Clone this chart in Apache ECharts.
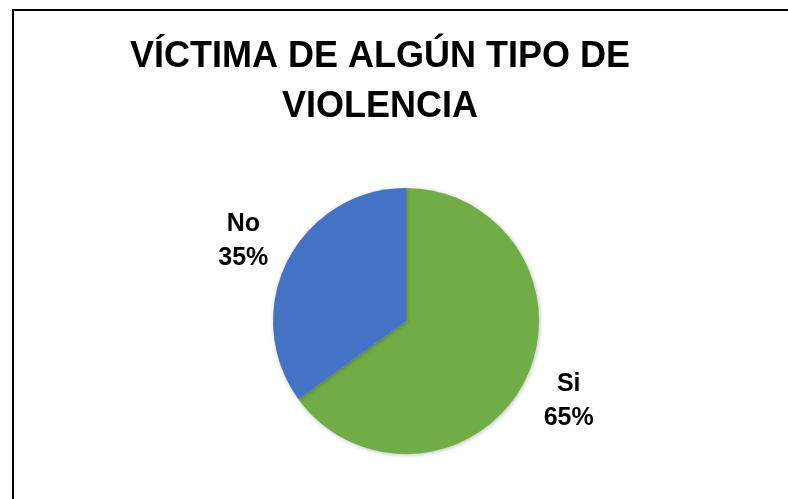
<!DOCTYPE html>
<html>
<head>
<meta charset="utf-8">
<script src="https://cdn.jsdelivr.net/npm/echarts@6/dist/echarts.min.js"></script>
<style>
  html, body { margin: 0; padding: 0; background: #fff; }
  #chart { width: 788px; height: 499px; }
</style>
</head>
<body>
<div id="chart"></div>
<script>
// datos del gráfico
var categorias = ['Si', 'No'];
var valores = [65, 35];
var colores = ['#70AD47', '#4472C4'];
var titulo = 'VÍCTIMA DE ALGÚN TIPO DE\nVIOLENCIA';

var datos = [];
for (var i = 0; i < categorias.length; i++) {
    datos.push({ name: categorias[i], value: valores[i], itemStyle: { color: colores[i] } });
}

var chart = echarts.init(document.getElementById('chart'));
var option = {
    animation: false,
    backgroundColor: '#fff',
    // marco del gráfico (se corta por la derecha y abajo)
    graphic: [{
        type: 'rect',
        shape: { x: 13, y: 10, width: 820, height: 540 },
        style: { fill: 'none', stroke: '#000', lineWidth: 2 },
        z: 10
    }],
    title: {
        text: titulo,
        left: 375,
        top: 27,
        textAlign: 'center',
        textStyle: {
            fontFamily: 'Liberation Sans',
            fontWeight: 'bold',
            fontSize: 36,
            lineHeight: 50,
            color: '#000'
        }
    },
    series: [{
        type: 'pie',
        center: [406, 321],
        radius: 133,
        startAngle: 90,
        clockwise: true,
        data: datos,
        itemStyle: {
            shadowBlur: 4,
            shadowColor: 'rgba(0,0,0,0.25)',
            shadowOffsetX: 1,
            shadowOffsetY: 1
        },
        label: {
            show: true,
            position: 'outside',
            formatter: '{b}\n{d}%',
            fontFamily: 'Liberation Sans',
            fontWeight: 'bold',
            fontSize: 25,
            lineHeight: 34,
            color: '#000'
        },
        labelLine: { show: false, length: 44, length2: 0 },
        labelLayout: function () {
            return { align: 'center', verticalAlign: 'middle' };
        }
    }]
};
chart.setOption(option);
</script>
</body>
</html>
